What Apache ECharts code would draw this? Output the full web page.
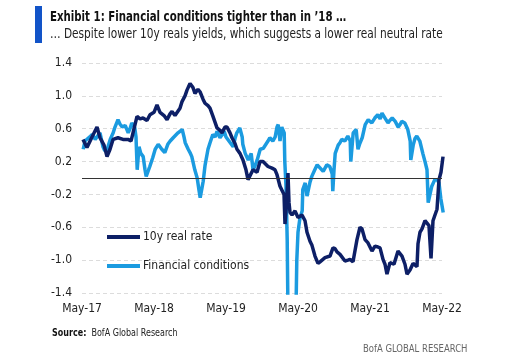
<!DOCTYPE html>
<html>
<head>
<meta charset="utf-8">
<script src="https://cdn.jsdelivr.net/npm/echarts@6/dist/echarts.min.js"></script>
<style>
html,body{margin:0;padding:0;background:#fff;}
#c{width:511px;height:359px;}
</style>
</head>
<body>
<div id="c"></div>
<script>
// x values: months since May-2017
const xTickLabels = ['May-17','May-18','May-19','May-20','May-21','May-22'];

const realMonths = [0.17,0.83,1.67,2.5,3,3.67,4.17,4.67,5.17,6,6.83,7.67,8.17,8.5,9.17,9.67,10.17,10.83,11.33,12,12.5,13,13.67,14.17,14.67,15,15.5,15.83,16.33,16.67,17.17,17.5,18,18.5,18.83,19.33,19.67,20.17,20.5,21,21.33,21.83,22.5,23,23.33,23.83,24.17,24.67,25,25.5,25.83,26.33,26.83,27.33,27.67,28,28.5,29.17,29.67,30.17,30.5,31,31.67,32.17,32.5,33,33.33,33.67,33.83,34,34.17,34.33,34.5,34.67,35,35.5,36,36.67,37.17,37.5,38,38.33,38.83,39.33,39.67,40,40.5,40.83,41.33,41.83,42.17,42.5,43,43.33,43.83,44.33,44.67,45.17,45.5,45.83,46.33,46.67,47.17,47.67,48,48.33,48.83,49.33,49.67,50.17,50.5,50.83,51.33,52,52.67,53,53.33,53.83,54.17,54.67,55.17,55.5,55.83,56,56.33,56.67,57.17,57.5,57.83,58.17,58.33,58.5,58.83,59.17,59.5,59.83,60.17];
const realRate = [0.47,0.37,0.50,0.62,0.49,0.40,0.26,0.35,0.47,0.49,0.47,0.47,0.45,0.55,0.75,0.72,0.73,0.70,0.77,0.80,0.89,0.80,0.76,0.71,0.78,0.81,0.76,0.75,0.85,0.93,1.00,1.07,1.15,1.10,1.03,1.08,1.05,0.96,0.91,0.88,0.85,0.75,0.61,0.58,0.55,0.62,0.62,0.55,0.49,0.42,0.35,0.30,0.22,0.10,-0.02,-0.04,0.10,0.07,0.20,0.20,0.18,0.14,0.12,0.10,0.04,-0.10,-0.12,-0.20,-0.56,-0.40,-0.20,0.06,-0.30,-0.42,-0.45,-0.40,-0.48,-0.45,-0.52,-0.66,-0.77,-0.82,-0.95,-1.04,-1.02,-1.00,-0.97,-0.98,-0.95,-0.85,-0.86,-0.90,-0.93,-0.95,-1.01,-1.00,-0.99,-1.02,-1.01,-0.75,-0.60,-0.62,-0.75,-0.79,-0.79,-0.89,-0.83,-0.84,-0.85,-0.99,-1.05,-1.17,-1.03,-1.05,-0.89,-0.92,-0.95,-1.05,-1.17,-1.12,-1.04,-1.02,-1.08,-0.80,-0.66,-0.62,-0.52,-0.55,-0.58,-0.98,-0.99,-0.52,-0.45,-0.38,-0.02,0.07,0.26];

const fciMonths = [0.2,0.5,0.8,1.3,1.7,2.2,2.5,3,3.5,3.8,4.2,4.7,5.2,5.5,6,6.3,6.7,7.2,7.7,8,8.3,8.8,9,9.2,9.5,9.8,10.2,10.5,10.7,11,11.3,11.8,12.2,12.7,13,13.3,13.8,14.3,14.7,15.2,15.5,16,16.7,17,17.2,17.7,18,18.3,18.8,19.2,19.5,19.7,20,20.2,20.5,21,21.3,21.8,22.2,22.5,23,23.3,23.7,24,24.3,24.8,25.2,25.5,25.8,26.3,26.7,26.8,27.2,27.7,28.2,28.5,28.8,29.2,29.7,30.2,30.5,31,31.3,31.8,32.2,32.5,32.7,33,33.3,33.7,33.8,34,34.2,34.3,34.7,35.3,35.7,35.8,36,36.3,36.7,36.8,37.2,37.5,38,38.3,38.8,39.2,39.7,40.2,40.5,40.8,41.3,41.7,41.8,42,42.2,42.7,43,43.3,43.8,44.3,44.7,44.8,45.2,45.7,46,46.3,46.7,47.2,47.7,48,48.3,48.8,49.3,49.7,50,50.5,51,51.3,51.7,52.2,52.7,53,53.3,53.8,54.3,54.7,54.8,55.2,55.5,55.8,56.3,56.8,57.2,57.5,57.7,58,58.3,58.8,59.2,59.5,59.8,60.2];
const finConditions = [0.35,0.45,0.47,0.50,0.53,0.47,0.49,0.55,0.38,0.33,0.35,0.47,0.55,0.62,0.71,0.66,0.62,0.64,0.55,0.60,0.67,0.61,0.50,0.10,0.38,0.30,0.26,0.10,0.02,0.08,0.14,0.25,0.35,0.41,0.38,0.35,0.31,0.41,0.45,0.49,0.50,0.55,0.59,0.50,0.43,0.35,0.31,0.26,0.10,0.00,-0.15,-0.24,-0.12,-0.04,0.15,0.35,0.42,0.53,0.50,0.57,0.49,0.52,0.57,0.50,0.49,0.42,0.38,0.48,0.55,0.61,0.50,0.41,0.30,0.22,0.30,0.10,0.14,0.22,0.35,0.36,0.38,0.45,0.49,0.45,0.50,0.62,0.65,0.45,0.62,0.55,0.20,-0.10,-0.75,-1.45,-1.9,-1.9,-1.45,-1.0,-0.66,-0.50,-0.40,-0.14,-0.06,-0.22,-0.05,0.02,0.10,0.16,0.12,0.08,0.12,0.16,0.14,0.05,-0.16,0.10,0.30,0.40,0.43,0.47,0.45,0.51,0.45,0.20,0.55,0.59,0.35,0.42,0.49,0.65,0.71,0.69,0.67,0.73,0.77,0.72,0.79,0.73,0.67,0.70,0.73,0.69,0.62,0.65,0.69,0.67,0.59,0.45,0.22,0.40,0.48,0.51,0.45,0.30,0.19,0.10,-0.30,-0.32,-0.10,-0.02,-0.02,-0.06,-0.25,-0.42];

const FONT = '"DejaVu Sans Condensed", "Liberation Sans", Arial, sans-serif';

const chart = echarts.init(document.getElementById('c'), null, {renderer: 'canvas'});
chart.setOption({
  animation: false,
  backgroundColor: '#fff',
  grid: {left: 82, right: 69, top: 63, bottom: 66},
  graphic: [
    {type: 'rect', left: 35, top: 6, shape: {width: 7, height: 37}, style: {fill: '#1254c8'}},
    {type: 'text', x: 50, y: 10, scaleX: 0.81, style: {text: 'Exhibit 1: Financial conditions tighter than in \u201918 \u2026', font: 'bold 14px ' + FONT, fill: '#111'}},
    {type: 'text', x: 50, y: 27, scaleX: 0.84, style: {text: '\u2026 Despite lower 10y reals yields, which suggests a lower real neutral rate', font: '14px ' + FONT, fill: '#222'}},
    {type: 'text', x: 52, y: 328, scaleX: 0.81, style: {rich: {b: {font: 'bold 11px ' + FONT, fill: '#111'}, n: {font: '11px ' + FONT, fill: '#222'}}, text: '{b|Source:}{n|  BofA Global Research}'}},
    {type: 'text', x: 363, y: 344, scaleX: 0.855, style: {text: 'BofA GLOBAL RESEARCH', font: '11px ' + FONT, fill: '#666'}}
  ],
  legend: {
    orient: 'vertical', left: 107, top: 231, padding: 0, itemWidth: 33, itemHeight: 4, itemGap: 17,
    icon: 'rect',
    data: ['10y real rate', 'Financial conditions'],
    textStyle: {fontFamily: FONT, fontSize: 12, color: '#222', padding: [0, 0, 0, -2]}
  },
  xAxis: {
    type: 'value', min: 0, max: 60, interval: 12,
    axisLine: {show: false}, axisTick: {show: false}, splitLine: {show: false},
    axisLabel: {margin: 10, fontFamily: FONT, fontSize: 12, color: '#222',
      formatter: v => xTickLabels[Math.round(v / 12)] || ''}
  },
  yAxis: {
    type: 'value', min: -1.4, max: 1.4, interval: 0.4,
    axisLine: {show: false}, axisTick: {show: false},
    splitLine: {show: true, lineStyle: {color: '#dcdcdc', type: [4, 3], width: 1}},
    axisLabel: {margin: 10, fontFamily: FONT, fontSize: 12, color: '#222',
      formatter: v => v.toFixed(1)}
  },
  series: [
    {
      name: 'Financial conditions', type: 'line', data: finConditions.map((v, i) => [fciMonths[i], v]),
      showSymbol: false, symbol: 'none', clip: true,
      lineStyle: {color: '#1b9be0', width: 3.5}, itemStyle: {color: '#1b9be0'},
      markLine: {silent: true, symbol: 'none', label: {show: false},
        lineStyle: {color: '#333', type: 'solid', width: 1}, data: [{yAxis: 0}]},
      z: 2
    },
    {
      name: '10y real rate', type: 'line', data: realRate.map((v, i) => [realMonths[i], v]),
      showSymbol: false, symbol: 'none', clip: true,
      lineStyle: {color: '#0d1f66', width: 3.5}, itemStyle: {color: '#0d1f66'},
      z: 3
    }
  ]
});
</script>
</body>
</html>
